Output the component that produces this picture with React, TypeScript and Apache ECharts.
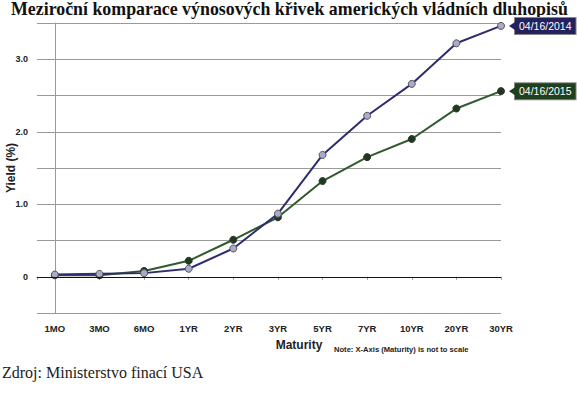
import React, { useEffect, useRef } from "react";
import * as echarts from "echarts";

const categories = ["1MO", "3MO", "6MO", "1YR", "2YR", "3YR", "5YR", "7YR", "10YR", "20YR", "30YR"];
const yields2014 = [0.03, 0.04, 0.05, 0.11, 0.39, 0.87, 1.68, 2.22, 2.66, 3.22, 3.46];
const yields2015 = [0.02, 0.02, 0.08, 0.22, 0.51, 0.82, 1.32, 1.65, 1.9, 2.32, 2.56];
const seriesNames = ["04/16/2014", "04/16/2015"];
const yTicks = [0, 1, 2, 3];
const titleText = "Meziroční komparace výnosových křivek amerických vládních dluhopisů";
const sourceText = "Zdroj: Ministerstvo finací USA";
const noteText = "Note: X-Axis (Maturity) is not to scale";

export default function App() {
  const ref = useRef<HTMLDivElement>(null);
  useEffect(() => {
    if (!ref.current) return;
    const chart = echarts.init(ref.current, null, { renderer: "svg" });
    const idx = categories.map((_, i) => i);
    const last = idx.length - 1;
    const labelStyle = (bg: string) => ({
      show: true,
      formatter: "{a}",
      color: "#fff",
      backgroundColor: bg,
      borderColor: "#888",
      borderWidth: 1,
      padding: [3, 4, 2, 4],
      fontFamily: "Liberation Sans, Arial, sans-serif",
      fontSize: 10.5,
      distance: 14,
    });
    const arrow = (values: number[], color: string) => ({
      silent: true,
      symbol: "triangle",
      symbolSize: [8, 6],
      symbolRotate: 90,
      symbolOffset: [11, 0],
      label: { show: false },
      itemStyle: { color },
      data: [{ coord: [last, values[last]] }],
    });
    chart.setOption({
      animation: false,
      backgroundColor: "#fff",
      graphic: [
        {
          type: "text",
          left: 11,
          top: 0,
          style: { text: titleText, fontFamily: "Liberation Serif, serif", fontWeight: "bold", fontSize: 17.85, fill: "#111" },
        },
        {
          type: "text",
          left: 2,
          top: 364,
          style: { text: sourceText, fontFamily: "Liberation Serif, serif", fontSize: 16, fill: "#222" },
        },
        {
          type: "text",
          left: 334,
          top: 345,
          style: { text: noteText, fontSize: 7.6, fontWeight: "bold", fill: "#222", fontFamily: "Liberation Sans, Arial, sans-serif" },
        },
      ],
      grid: { left: 37, right: 76, top: 23, bottom: 80, containLabel: false, outerBoundsMode: "none" },
      xAxis: {
        type: "value",
        min: -0.4,
        max: 10,
        name: "Maturity",
        nameLocation: "middle",
        nameGap: 26,
        nameMoveOverlap: false,
        nameTextStyle: { fontFamily: "Liberation Sans, Arial, sans-serif", fontWeight: "bold", fontSize: 12, color: "#222", padding: [0, 0, 0, 60] },
        axisLine: { show: true, lineStyle: { color: "#999", width: 1 } },
        axisTick: { show: true, length: 3, customValues: [-0.4, ...idx], lineStyle: { color: "#999" } },
        axisLabel: {
          customValues: idx,
          formatter: (v: number) => categories[Math.round(v)] ?? "",
          fontFamily: "Liberation Sans, Arial, sans-serif",
          fontWeight: "bold",
          fontSize: 9.5,
          color: "#222",
          margin: 10,
        },
        splitLine: { show: false },
      },
      yAxis: {
        type: "value",
        min: -0.5,
        max: 3.5,
        interval: 0.5,
        name: "Yield (%)",
        nameLocation: "middle",
        nameGap: 20,
        nameMoveOverlap: false,
        nameTextStyle: { fontFamily: "Liberation Sans, Arial, sans-serif", fontWeight: "bold", fontSize: 12, color: "#222" },
        axisLine: { show: true, lineStyle: { color: "#999" } },
        axisTick: { show: false },
        axisLabel: {
          formatter: (v: number) => (yTicks.includes(v) ? (v === 0 ? "0" : v.toFixed(1)) : ""),
          fontFamily: "Liberation Sans, Arial, sans-serif",
          fontWeight: "bold",
          fontSize: 9,
          color: "#222",
          margin: 9,
        },
        splitLine: { show: true, lineStyle: { color: "#9a9a9a", width: 1 } },
      },
      series: [
        {
          name: seriesNames[0],
          type: "line",
          data: idx.map((i) => [i, yields2014[i]]),
          symbol: "circle",
          symbolSize: 7,
          lineStyle: { color: "#2e2c6e", width: 2 },
          itemStyle: { color: "#a9abc8", borderColor: "#555", borderWidth: 1 },
          endLabel: labelStyle("#23225e"),
          markPoint: arrow(yields2014, "#23225e"),
          markLine: {
            silent: true,
            symbol: "none",
            label: { show: false },
            lineStyle: { color: "#111", type: "solid", width: 1 },
            data: [{ yAxis: 0 }],
          },
          z: 3,
        },
        {
          name: seriesNames[1],
          type: "line",
          data: idx.map((i) => [i, yields2015[i]]),
          symbol: "circle",
          symbolSize: 7,
          lineStyle: { color: "#2f5a2c", width: 2 },
          itemStyle: { color: "#1d3b1c", borderColor: "#333", borderWidth: 1 },
          endLabel: labelStyle("#1f3f1e"),
          markPoint: arrow(yields2015, "#1f3f1e"),
          z: 2,
        },
      ],
    });
    return () => chart.dispose();
  }, []);
  return <div ref={ref} style={{ position: "absolute", left: 0, top: 0, width: 577, height: 393 }} />;
}
